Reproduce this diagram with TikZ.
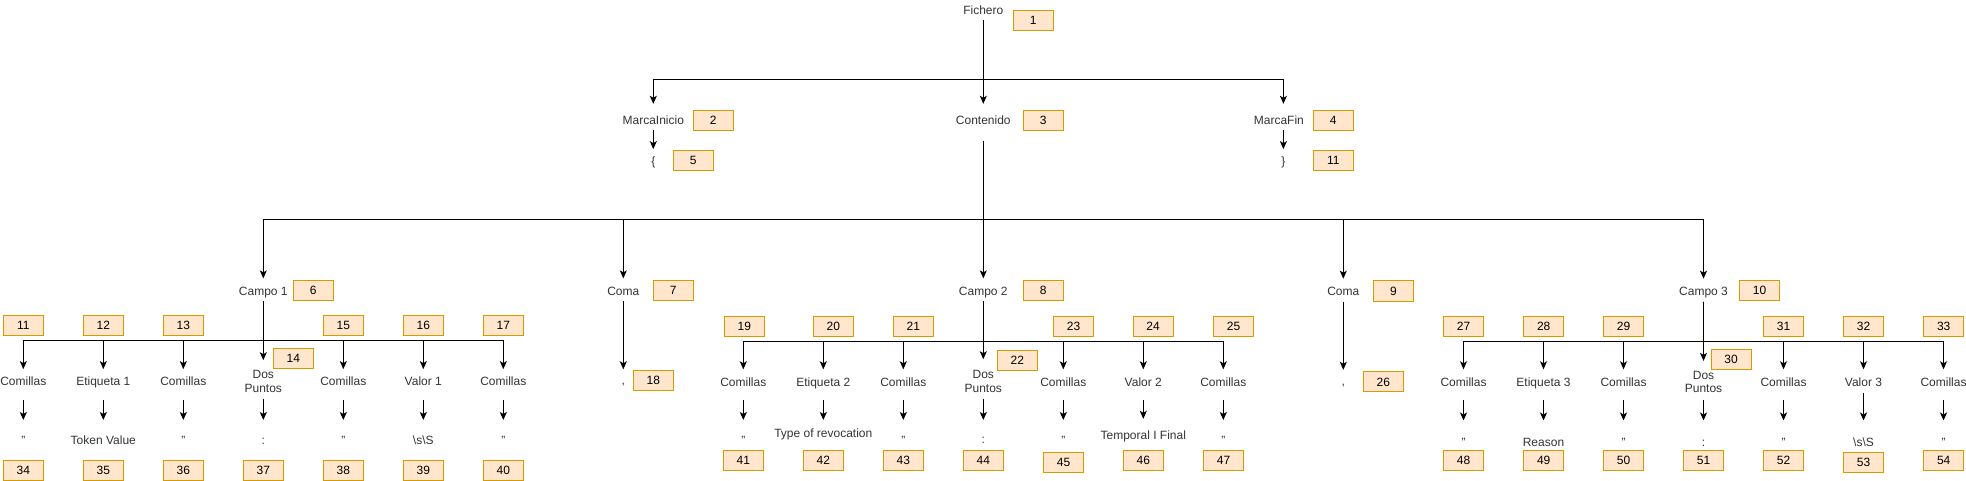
\documentclass[tikz,border=0pt]{standalone}
\usepackage{fontspec}
\setmainfont{Liberation Sans}
\usetikzlibrary{arrows.meta}
\definecolor{txtc}{HTML}{333333}
\definecolor{boxd}{HTML}{D79B00}
\definecolor{boxf}{HTML}{FFE6CC}
\newcommand\lblfont{\fontsize{12}{13.4}\selectfont}
\begin{document}
\begin{tikzpicture}[x=1pt,y=-1pt,
  t/.style={inner sep=0pt, font=\lblfont, text=txtc},
  lbl/.style={t, text height=9pt, text depth=3pt},
  dp/.style={t, align=center},
  val/.style={t, anchor=north, text height=#1, text depth=3pt},
  val/.default=24.5pt,
  nb/.style={draw=boxd, fill=boxf, line width=1pt, minimum width=40pt, minimum height=20pt, inner sep=0pt, font=\lblfont, text=black},
  arr/.style={line width=1pt, -{Stealth[length=8pt,width=7pt,inset=2pt]}},
]
\path[use as bounding box] (0,0) rectangle (1966,481);

% ---------------- top levels ----------------
\node[lbl] (fich) at (983.3,12) {Fichero};
\node[lbl] (mi) at (653.3,121.6) {MarcaInicio};
\node[lbl] (cont) at (983.3,121.6) {Contenido};
\node[lbl] (mf) at (1283.4,121.6) {MarcaFin\hspace*{9pt}};
\node[lbl] (lb) at (653.3,163) {\{};
\node[lbl] (rb) at (1283.4,163) {\}};

\coordinate (j0) at (983.3,80);
\draw[arr, shorten <=2pt, shorten >=11.6pt] (fich) -- (cont);
\draw[arr, shorten <=2pt, shorten >=11.6pt] (fich) -- (j0) -| (mi);
\draw[arr, shorten <=2pt, shorten >=11.6pt] (fich) -- (j0) -| (mf);
\draw[arr, shorten <=2.4pt, shorten >=7.7pt] (mi) -- (lb);
\draw[arr, shorten <=2.4pt, shorten >=7.7pt] (mf) -- (rb);

% ---------------- campo level ----------------
\node[lbl] (c1) at (263.3,292) {Campo 1};
\node[lbl] (cm1) at (623.3,292) {Coma};
\node[lbl] (c2) at (983.3,292) {Campo 2};
\node[lbl] (cm2) at (1343.3,292.3) {Coma};
\node[lbl] (c3) at (1703.5,292.3) {Campo 3};
\node[lbl] (cv1) at (623.3,381) {,};
\node[lbl] (cv2) at (1343.3,382) {,};

\coordinate (j1) at (983.3,220);
\draw[arr, shorten <=13.1pt, shorten >=7.4pt] (cont) -- (c2);
\foreach \k in {c1,cm1,cm2,c3}
  \draw[arr, shorten <=13.1pt, shorten >=7.4pt] (cont) -- (j1) -| (\k);
\draw[arr, shorten <=3pt, shorten >=5.5pt] (cm1) -- (cv1);
\draw[arr, shorten <=3pt, shorten >=6pt] (cm2) -- (cv2);

% ---------------- campo 1 subtree ----------------
\coordinate (j11) at (263.3,340);
\foreach \n/\x/\t in {a/23.3/Comillas, b/103.3/Etiqueta 1, c/183.3/Comillas, e/343.3/Comillas, f/423.3/Valor 1, g/503.3/Comillas}{
  \node[lbl] (k1\n) at (\x,382) {\t};
  \draw[arr, shorten <=3pt, shorten >=6.7pt] (c1) -- (j11) -| (k1\n);
}
\node[dp] (k1d) at (263.3,381.3) {Dos\\Puntos};
\draw[arr, shorten <=3pt, shorten >=10pt] (c1) -- (k1d);
\foreach \n/\x/\t in {a/23.3/{"}, b/103.3/Token Value, c/183.3/{"}, e/343.3/{"}, f/423.3/\textbackslash s\textbackslash S, g/503.3/{"}}{
  \node[val] (v1\n) at (\x,420) {\t};
  \draw[arr, shorten <=12pt] (k1\n) -- (v1\n);
}
\node[val] (v1d) at (263.3,420) {:};
\draw[arr, shorten <=6.5pt] (k1d) -- (v1d);

% ---------------- campo 2 subtree ----------------
\coordinate (j21) at (983.3,341);
\foreach \n/\x/\t in {a/743.3/Comillas, b/823.3/Etiqueta 2, c/903.3/Comillas, e/1063.3/Comillas, f/1143.3/Valor 2, g/1223.3/Comillas}{
  \node[lbl] (k2\n) at (\x,383) {\t};
  \draw[arr, shorten <=3pt, shorten >=7.5pt] (c2) -- (j21) -| (k2\n);
}
\node[dp] (k2d) at (983.3,381.3) {Dos\\Puntos};
\draw[arr, shorten <=3pt, shorten >=11pt] (c2) -- (k2d);
\foreach \n/\x/\t in {a/743.3/{"}, c/903.3/{"}, e/1063.3/{"}, g/1223.3/{"}}{
  \node[val=24pt] (v2\n) at (\x,420) {\t};
  \draw[arr, shorten <=11pt] (k2\n) -- (v2\n);
}
\node[val=17.4pt] (v2b) at (823.3,420) {Type of revocation};
\draw[arr, shorten <=11pt] (k2b) -- (v2b);
\node[val=20.5pt] (v2f) at (1143.3,418.8) {Temporal I Final};
\draw[arr, shorten <=11pt] (k2f) -- (v2f);
\node[val=23.5pt] (v2d) at (983.3,420) {:};
\draw[arr, shorten <=6.5pt] (k2d) -- (v2d);

% ---------------- campo 3 subtree ----------------
\coordinate (j31) at (1703.5,341);
\foreach \n/\x/\t in {a/1463.5/Comillas, b/1543.5/Etiqueta 3, c/1623.5/Comillas, e/1783.5/Comillas, f/1863.5/Valor 3, g/1943.5/Comillas}{
  \node[lbl] (k3\n) at (\x,383) {\t};
  \draw[arr, shorten <=3pt, shorten >=7.5pt] (c3) -- (j31) -| (k3\n);
}
\node[dp] (k3d) at (1703.5,382) {Dos\\Puntos};
\draw[arr, shorten <=3pt, shorten >=10pt] (c3) -- (k3d);
\foreach \n/\x/\t in {a/1463.5/{"}, b/1543.5/Reason, c/1623.5/{"}, e/1783.5/{"}, g/1943.5/{"}}{
  \node[val=25.3pt] (v3\n) at (\x,420.5) {\t};
  \draw[arr, shorten <=11pt] (k3\n) -- (v3\n);
}
\node[val=25.3pt] (v3f) at (1863.5,420.5) {\textbackslash s\textbackslash S};
\draw[arr, shorten <=3.7pt] (k3f) -- (v3f);
\node[val=25.3pt] (v3d) at (1703.5,420.5) {:};
\draw[arr, shorten <=6.5pt] (k3d) -- (v3d);

% ---------------- numbered boxes ----------------
\node[nb] (b1) at (1033.2,20.3) {1};
\node[nb] (b2) at (713.3,120.3) {2};
\node[nb] (b3) at (1043.1,120.3) {3};
\node[nb] (b4) at (1333.3,120.3) {4};
\node[nb] (b5) at (693.2,160.3) {5};
\node[nb] (b11m) at (1333.3,160.3) {11};
\node[nb] (b6) at (313.3,290.5) {6};
\node[nb] (b7) at (673.3,290.5) {7};
\node[nb] (b8) at (1043.3,290.5) {8};
\node[nb] (b9) at (1393.4,291) {9};
\node[nb] (b10) at (1759.5,290.7) {10};
\node[nb] (b18) at (653.3,380.7) {18};
\node[nb] (b26) at (1383.4,381.9) {26};
\node[nb] (b14) at (293.3,358.3) {14};
\node[nb] (b22) at (1017.3,360.7) {22};
\node[nb] (b30) at (1731.1,359.1) {30};
\foreach \t/\x in {11/23.3, 12/103.3, 13/183.3, 15/343.3, 16/423.3, 17/503.3}
  \node[nb] (b\t) at (\x,325.7) {\t};
\foreach \t/\x in {19/744.3, 20/833.3, 21/913.3, 23/1073.5, 24/1153, 25/1233.5, 27/1463.5, 28/1543.7, 29/1623.5, 31/1783.5, 32/1863.5, 33/1943.7}
  \node[nb] (b\t) at (\x,326) {\t};
\foreach \t/\x in {34/23.3, 35/103.3, 36/183.3, 37/263.3, 38/343.3, 39/423.3, 40/503.3}
  \node[nb] (b\t) at (\x,470) {\t};
\foreach \t/\x/\y in {41/743.3/460.7, 42/823.3/460.7, 43/903.3/460.7, 44/983.3/460.7, 45/1063.5/462.4, 46/1143.3/460, 47/1223.5/460, 48/1463.5/460, 49/1543.7/460, 50/1623.5/460, 51/1703.5/460, 52/1783.5/460, 53/1863.5/462, 54/1943.7/460}
  \node[nb] (b\t) at (\x,\y) {\t};
\end{tikzpicture}
\end{document}
